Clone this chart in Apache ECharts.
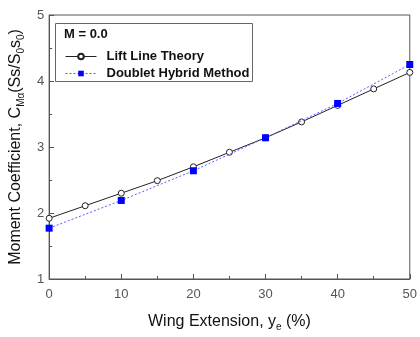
<!DOCTYPE html>
<html>
<head>
<meta charset="utf-8">
<script src="https://cdn.jsdelivr.net/npm/echarts@6/dist/echarts.min.js"></script>
<style>
  html, body { margin: 0; padding: 0; background: #fff; }
  #chart { width: 420px; height: 337px; }
</style>
</head>
<body>
<div id="chart"></div>
<script>
// wing extension y_e (%)
const liftX = [0, 5, 10, 15, 20, 25, 30, 35, 40, 45, 50];
const liftY = [1.92, 2.11, 2.30, 2.49, 2.70, 2.92, 3.14, 3.38, 3.63, 3.88, 4.13];
const doubletX = [0, 10, 20, 30, 40, 50];
const doubletY = [1.77, 2.19, 2.64, 3.14, 3.66, 4.25];

const font = "'Liberation Sans', Arial, sans-serif";
const axisGray = "#555";

const chart = echarts.init(document.getElementById("chart"), undefined, { renderer: "canvas" });

chart.setOption({
  animation: false,
  grid: { left: 47, right: 5, top: 15, bottom: 52, show: true, borderColor: axisGray, borderWidth: 1 },
  xAxis: {
    type: "value",
    min: 0, max: 50, interval: 10,
    name: "Wing Extension, y{sub|e} (%)",
    nameLocation: "middle",
    nameGap: 33,
    nameTextStyle: {
      fontFamily: font, fontSize: 16, color: "#111",
      rich: { sub: { fontFamily: font, fontSize: 10, color: "#111", padding: [10, 0, 0, 0] } }
    },
    axisLine: { lineStyle: { color: axisGray } },
    axisTick: { inside: true, length: 5, lineStyle: { color: axisGray } },
    minorTick: { show: true, splitNumber: 2, length: 3, lineStyle: { color: axisGray } },
    splitLine: { show: false },
    axisLabel: { fontFamily: font, fontSize: 13, color: "#555", margin: 9 }
  },
  yAxis: {
    type: "value",
    min: 1, max: 5, interval: 1,
    name: "Moment Coefficient, C{sub|M\u03b1}(Ss/S{sub|0}s{sub|0})",
    nameLocation: "middle",
    nameRotate: 90,
    nameGap: 20,
    nameTextStyle: {
      fontFamily: font, fontSize: 16, color: "#111",
      rich: { sub: { fontFamily: font, fontSize: 10, color: "#111", padding: [10, 0, 0, 0] } }
    },
    axisLine: { show: true, lineStyle: { color: axisGray } },
    axisTick: { show: true, inside: true, length: 5, lineStyle: { color: axisGray } },
    minorTick: { show: true, splitNumber: 2, length: 3, lineStyle: { color: axisGray } },
    splitLine: { show: false },
    axisLabel: { fontFamily: font, fontSize: 13, color: "#555", margin: 5 }
  },
  legend: {
    orient: "vertical",
    left: 60, top: 45,
    itemWidth: 31, itemHeight: 7, itemGap: 4,
    lineStyle: { width: 1 },
    textStyle: { fontFamily: font, fontSize: 13, fontWeight: "bold", color: "#111", padding: [0, 0, 0, 5] },
    data: ["Lift Line Theory", "Doublet Hybrid Method"]
  },
  graphic: [
    { type: "rect", left: 55, top: 23, shape: { width: 197, height: 58 },
      style: { fill: "#fff", stroke: "#666", lineWidth: 1 }, z: 0 },
    { type: "text", left: 64, top: 28,
      style: { text: "M = 0.0", font: "bold 13px " + font, fill: "#111" }, z: 1 }
  ],
  series: [
    {
      name: "Lift Line Theory",
      type: "line",
      data: liftX.map((x, i) => [x, liftY[i]]),
      symbol: "circle", symbolSize: 6,
      lineStyle: { color: "#222", width: 1 },
      itemStyle: { color: "#fff", borderColor: "#222", borderWidth: 1 },
      z: 3
    },
    {
      name: "Doublet Hybrid Method",
      type: "line",
      data: doubletX.map((x, i) => [x, doubletY[i]]),
      symbol: "rect", symbolSize: 7,
      lineStyle: { color: "#5a5aff", width: 1, type: [2, 2] },
      itemStyle: { color: "#0000ff", borderWidth: 0 },
      z: 4
    }
  ]
});
</script>
</body>
</html>
